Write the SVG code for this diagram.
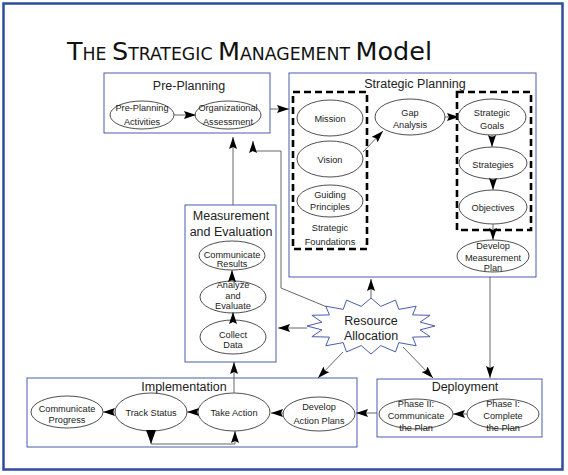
<svg xmlns="http://www.w3.org/2000/svg" width="568" height="475" viewBox="0 0 568 475">
<style>
.frame{fill:#fff;stroke:#2d4c9c;stroke-width:2.5}
.box{fill:#fff;stroke:#4b5cab;stroke-width:1}
.ell{fill:#fff;stroke:#222;stroke-width:0.8}
.dash{fill:none;stroke:#000;stroke-width:2.6;stroke-dasharray:7,4}
.con{fill:none;stroke:#666;stroke-width:1;marker-end:url(#ah)}
.star{fill:#fff;stroke:#4b5cab;stroke-width:1}
text{font-family:"Liberation Sans",Arial,sans-serif;fill:#222;text-anchor:middle}
.h{font-size:12.5px}
.s{font-size:9.2px}
.title{font-family:"Liberation Sans Narrow","DejaVu Sans Condensed","Liberation Sans",sans-serif;text-anchor:start;fill:#111}
</style>
<defs>
<marker id="ah" viewBox="0 0 12 8" markerWidth="12" markerHeight="8" refX="12" refY="4" markerUnits="userSpaceOnUse" orient="auto">
<path d="M0,0 L12,4 L0,8 L2,4 z" fill="#000"/>
</marker>
</defs>
<rect x="0" y="0" width="568" height="475" fill="#fff"/>
<rect class="frame" x="3.5" y="3.5" width="559" height="466"/>

<g id="title">
<text class="title" x="67" y="60" textLength="365" lengthAdjust="spacingAndGlyphs"><tspan font-size="25">T</tspan><tspan font-size="17">HE </tspan><tspan font-size="25">S</tspan><tspan font-size="17">TRATEGIC </tspan><tspan font-size="25">M</tspan><tspan font-size="17">ANAGEMENT </tspan><tspan font-size="25">Model</tspan></text>
</g>

<g id="pre-planning">
<rect class="box" x="104" y="73" width="166" height="60"/>
<text class="h" x="189" y="89.5">Pre-Planning</text>
<g id="pre-planning-activities">
<ellipse class="ell" cx="142" cy="115" rx="32" ry="14"/>
<text class="s" x="142" y="111">Pre-Planning</text>
<text class="s" x="142" y="125">Activities</text>
</g>
<g id="organizational-assessment">
<ellipse class="ell" cx="228" cy="115" rx="33" ry="14"/>
<text class="s" x="228" y="111">Organizational</text>
<text class="s" x="228" y="125">Assessment</text>
</g>
</g>

<g id="strategic-planning">
<rect class="box" x="289" y="73" width="247" height="204"/>
<text class="h" x="415" y="87.5">Strategic Planning</text>
<rect class="dash" x="293" y="92" width="74" height="157"/>
<rect class="dash" x="457" y="92" width="74" height="138"/>
<g id="mission">
<ellipse class="ell" cx="330" cy="118" rx="33" ry="18"/>
<text class="s" x="330" y="121.5">Mission</text>
</g>
<g id="vision">
<ellipse class="ell" cx="330" cy="159" rx="33" ry="18"/>
<text class="s" x="330" y="162.5">Vision</text>
</g>
<g id="guiding-principles">
<ellipse class="ell" cx="330" cy="201" rx="33" ry="16"/>
<text class="s" x="330" y="197.5">Guiding</text>
<text class="s" x="330" y="209.5">Principles</text>
</g>
<text class="s" x="330" y="230.5">Strategic</text>
<text class="s" x="330" y="244.5">Foundations</text>
<g id="gap-analysis">
<ellipse class="ell" cx="410" cy="117" rx="35" ry="18"/>
<text class="s" x="410" y="115.5">Gap</text>
<text class="s" x="410" y="127.5">Analysis</text>
</g>
<g id="strategic-goals">
<ellipse class="ell" cx="492" cy="117" rx="34" ry="18"/>
<text class="s" x="492" y="115.5">Strategic</text>
<text class="s" x="492" y="128.5">Goals</text>
</g>
<g id="strategies">
<ellipse class="ell" cx="493" cy="163" rx="34" ry="16"/>
<text class="s" x="493" y="167.5">Strategies</text>
</g>
<g id="objectives">
<ellipse class="ell" cx="493" cy="207" rx="34" ry="17"/>
<text class="s" x="493" y="211">Objectives</text>
</g>
<g id="develop-measurement-plan">
<ellipse class="ell" cx="493" cy="256" rx="36" ry="16"/>
<text class="s" x="493" y="248.5">Develop</text>
<text class="s" x="493" y="260.5">Measurement</text>
<text class="s" x="493" y="271">Plan</text>
</g>
</g>

<g id="measurement-evaluation">
<rect class="box" x="185" y="205" width="91" height="157"/>
<text class="h" x="231" y="220">Measurement</text>
<text class="h" x="231" y="236">and Evaluation</text>
<g id="communicate-results">
<ellipse class="ell" cx="232" cy="255.5" rx="33" ry="14.5"/>
<text class="s" x="232" y="258">Communicate</text>
<text class="s" x="232" y="267">Results</text>
</g>
<g id="analyze-evaluate">
<ellipse class="ell" cx="233" cy="297" rx="33" ry="16"/>
<text class="s" x="233" y="288">Analyze</text>
<text class="s" x="233" y="298.5">and</text>
<text class="s" x="233" y="308.5">Evaluate</text>
</g>
<g id="collect-data">
<ellipse class="ell" cx="233" cy="337" rx="33" ry="17"/>
<text class="s" x="233" y="337.5">Collect</text>
<text class="s" x="233" y="347.5">Data</text>
</g>
</g>

<g id="resource-allocation">
<polygon class="star" points="435,326 420.1,329.9 430.1,336.7 412.6,337.1 416.2,345.8 398.8,342.6 395.5,351.9 380.8,345.6 371,354 361.2,345.6 346.5,351.9 343.2,342.6 325.8,345.8 329.4,337.1 311.9,336.7 321.9,329.9 307,326 321.9,322.1 311.9,315.3 329.4,314.9 325.8,306.2 343.2,309.4 346.5,300.1 361.2,306.4 371,298 380.8,306.4 395.5,300.1 398.8,309.4 416.2,306.2 412.6,314.9 430.1,315.3 420.1,322.1"/>
<text class="h" x="371" y="324.5">Resource</text>
<text class="h" x="371" y="340">Allocation</text>
</g>

<g id="implementation">
<rect class="box" x="27" y="378" width="330" height="69"/>
<text class="h" x="184" y="391">Implementation</text>
<g id="communicate-progress">
<ellipse class="ell" cx="67" cy="412" rx="36" ry="16"/>
<text class="s" x="67" y="412">Communicate</text>
<text class="s" x="67" y="423">Progress</text>
</g>
<g id="track-status">
<ellipse class="ell" cx="151" cy="412" rx="36" ry="19"/>
<text class="s" x="151" y="415.5">Track Status</text>
</g>
<g id="take-action">
<ellipse class="ell" cx="234" cy="412" rx="36" ry="19"/>
<text class="s" x="234" y="415.5">Take Action</text>
</g>
<g id="develop-action-plans">
<ellipse class="ell" cx="319" cy="414" rx="36" ry="17"/>
<text class="s" x="319" y="409.5">Develop</text>
<text class="s" x="319" y="423.5">Action Plans</text>
</g>
</g>

<g id="deployment">
<rect class="box" x="377" y="379" width="165" height="58"/>
<text class="h" x="465" y="391">Deployment</text>
<g id="phase-2">
<ellipse class="ell" cx="416" cy="414" rx="37" ry="15"/>
<text class="s" x="416" y="406.5">Phase II:</text>
<text class="s" x="416" y="418.5">Communicate</text>
<text class="s" x="416" y="430.5">the Plan</text>
</g>
<g id="phase-1">
<ellipse class="ell" cx="503" cy="414" rx="36" ry="15"/>
<text class="s" x="503" y="406.5">Phase I:</text>
<text class="s" x="503" y="418.5">Complete</text>
<text class="s" x="503" y="430.5">the Plan</text>
</g>
</g>

<g id="connectors">
<path class="con" d="M174,115 L196,115"/>
<path class="con" d="M270,109 L289,109"/>
<path class="con" d="M363,152 L383,131"/>
<path class="con" d="M445,117 L459,117"/>
<path class="con" d="M492,135 L492,147"/>
<path class="con" d="M493,179 L493,190"/>
<path class="con" d="M493,224 L493,240"/>
<path class="con" d="M490,277 L490,378"/>
<path class="con" d="M467,414 L453,414"/>
<path class="con" d="M377,413 L356,413"/>
<path class="con" d="M283,413 L271,413"/>
<path class="con" d="M198,412 L187,412"/>
<path class="con" d="M115,412 L103,412"/>
<path class="con" d="M151,431 L151,444 L235,444 L235,431"/>
<path d="M146,430 L156,430 L151,444 z" fill="#000"/>
<path class="con" d="M234,393 L234,362"/>
<path class="con" d="M233,320 L233,312"/>
<path class="con" d="M232,281 L232,270"/>
<path class="con" d="M233,205 L233,137"/>
<path class="con" d="M327,307 L281,288 L281,151 L253,151 L253,141"/>
<path class="con" d="M307,328 L278,328"/>
<path class="con" d="M371,298 L371,279"/>
<path class="con" d="M343,352 L318,378"/>
<path class="con" d="M403,347 L433,378"/>
</g>
</svg>
